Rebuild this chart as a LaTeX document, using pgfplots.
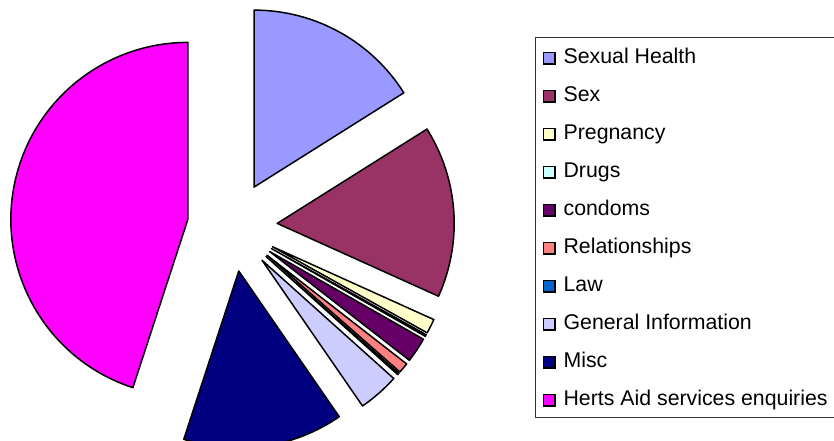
\documentclass[border=0pt]{standalone}
\usepackage{pgfplots}
\pgfplotsset{compat=1.18}
\usepackage{fontspec}
\setmainfont{Liberation Sans}
\definecolor{cSH}{HTML}{9999FF}
\definecolor{cSex}{HTML}{993366}
\definecolor{cPreg}{HTML}{FFFFCC}
\definecolor{cDrugs}{HTML}{CCFFFF}
\definecolor{cCond}{HTML}{660066}
\definecolor{cRel}{HTML}{FF8080}
\definecolor{cLaw}{HTML}{0066CC}
\definecolor{cGI}{HTML}{CCCCFF}
\definecolor{cMisc}{HTML}{000080}
\definecolor{cHerts}{HTML}{FF00FF}
\begin{document}
\begin{tikzpicture}
\begin{axis}[
  at={(0,0)}, anchor=south west,
  width=834pt, height=440pt, scale only axis,
  xmin=0, xmax=834, ymin=0, ymax=440,
  hide axis, clip=false,
  legend image code/.code={\draw[#1, draw=black, line width=1.2pt] (0pt,-0.5pt) rectangle (11.5pt,11pt);},
  legend style={at={(0.6415,0.917)}, anchor=north west, draw=black!80, line width=0.8pt,
    font=\fontsize{21.3}{24}\selectfont, inner xsep=7.5pt, inner ysep=9.5pt,
    nodes={inner sep=0pt, text height=17pt, text depth=2pt, anchor=base west},
    row sep=19pt, column sep=8pt, legend cell align=left},
]
\def\cumsum{0}
\foreach \v/\col in {57.8/cSH, 56.5/cSex, 4.8/cPreg, 0.6/cDrugs, 8.2/cCond, 3.4/cRel, 0.6/cLaw, 13.5/cGI, 52.7/cMisc, 161.9/cHerts}{
  \pgfmathsetmacro\aS{90-\cumsum}
  \pgfmathsetmacro\aE{90-\cumsum-\v}
  \pgfmathsetmacro\aM{90-\cumsum-\v/2}
  \pgfmathsetmacro\px{232.3+45*cos(\aM)}
  \pgfmathsetmacro\py{213.5+45*sin(\aM)}
  \edef\temp{\noexpand\filldraw[fill=\col, draw=black, line width=1.5pt, line join=round] (axis cs:\px,\py) -- ++(\aS:177pt) arc[start angle=\aS, end angle=\aE, radius=177pt] -- cycle;}
  \temp
  \pgfmathsetmacro\ns{\cumsum+\v}
  \xdef\cumsum{\ns}
}
\addlegendimage{fill=cSH}\addlegendentry{Sexual Health}
\addlegendimage{fill=cSex}\addlegendentry{Sex}
\addlegendimage{fill=cPreg}\addlegendentry{Pregnancy}
\addlegendimage{fill=cDrugs}\addlegendentry{Drugs}
\addlegendimage{fill=cCond}\addlegendentry{condoms}
\addlegendimage{fill=cRel}\addlegendentry{Relationships}
\addlegendimage{fill=cLaw}\addlegendentry{Law}
\addlegendimage{fill=cGI}\addlegendentry{General Information}
\addlegendimage{fill=cMisc}\addlegendentry{Misc}
\addlegendimage{fill=cHerts}\addlegendentry{Herts Aid services enquiries}
\end{axis}
\pgfresetboundingbox
\path[use as bounding box] (0,0) rectangle (834pt,440pt);
\end{tikzpicture}
\end{document}
